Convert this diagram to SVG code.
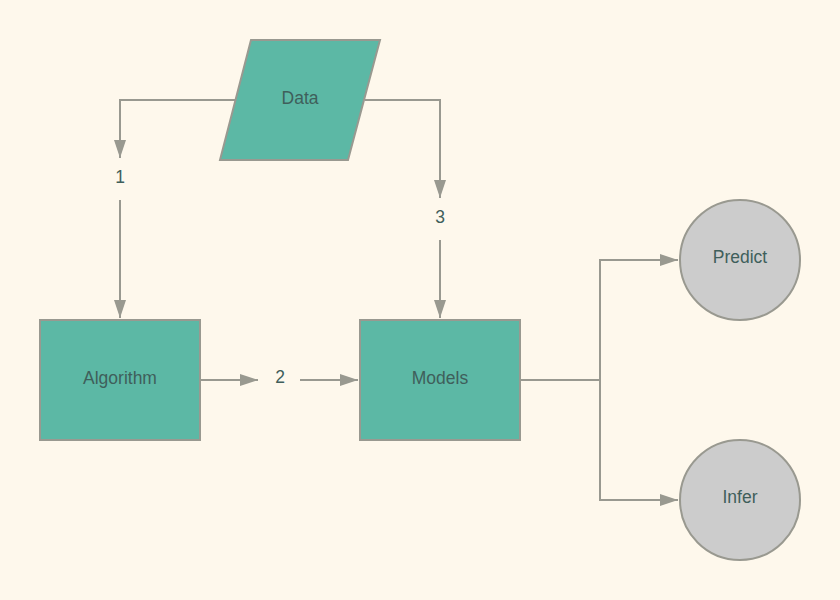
<svg xmlns="http://www.w3.org/2000/svg" width="840" height="600" viewBox="0 0 840 600">
<style>
.shape{fill:#5cb8a5;stroke:#999990;stroke-width:2}
.circ{fill:#cccccc;stroke:#999990;stroke-width:2}
.edge{fill:none;stroke:#999990;stroke-width:2}
.lbl{font-family:"Liberation Sans",Arial,sans-serif;font-size:17.5px;fill:#3f5f5b;text-anchor:middle;dominant-baseline:central}
</style>
<defs>
<marker id="arr" viewBox="0 0 18 12" refX="18" refY="6" markerWidth="18" markerHeight="12" markerUnits="userSpaceOnUse" orient="auto">
<path d="M0,0 L18,6 L0,12 Z" fill="#999990"/>
</marker>
</defs>
<rect width="840" height="600" fill="#fef8ec"/>
<g id="connectors">
<path class="edge" d="M235,100 H120 V158" marker-end="url(#arr)"/>
<path class="edge" d="M120,200 V318" marker-end="url(#arr)"/>
<path class="edge" d="M365,100 H440 V198" marker-end="url(#arr)"/>
<path class="edge" d="M440,240 V318" marker-end="url(#arr)"/>
<path class="edge" d="M200,380 H258" marker-end="url(#arr)"/>
<path class="edge" d="M300,380 H358" marker-end="url(#arr)"/>
<path class="edge" d="M520,380 H600 V260 H678" marker-end="url(#arr)"/>
<path class="edge" d="M600,380 V500 H678" marker-end="url(#arr)"/>
<text class="lbl" x="120" y="177">1</text>
<text class="lbl" x="280" y="377">2</text>
<text class="lbl" x="440" y="217">3</text>
</g>
<g id="data">
<polygon class="shape" points="251,40 380,40 348,160 220,160"/>
<text class="lbl" x="300" y="98">Data</text>
</g>
<g id="algorithm">
<rect class="shape" x="40" y="320" width="160" height="120"/>
<text class="lbl" x="120" y="378">Algorithm</text>
</g>
<g id="models">
<rect class="shape" x="360" y="320" width="160" height="120"/>
<text class="lbl" x="440" y="378">Models</text>
</g>
<g id="predict">
<circle class="circ" cx="740" cy="260" r="60"/>
<text class="lbl" x="740" y="257">Predict</text>
</g>
<g id="infer">
<circle class="circ" cx="740" cy="500" r="60"/>
<text class="lbl" x="740" y="497">Infer</text>
</g>
</svg>
